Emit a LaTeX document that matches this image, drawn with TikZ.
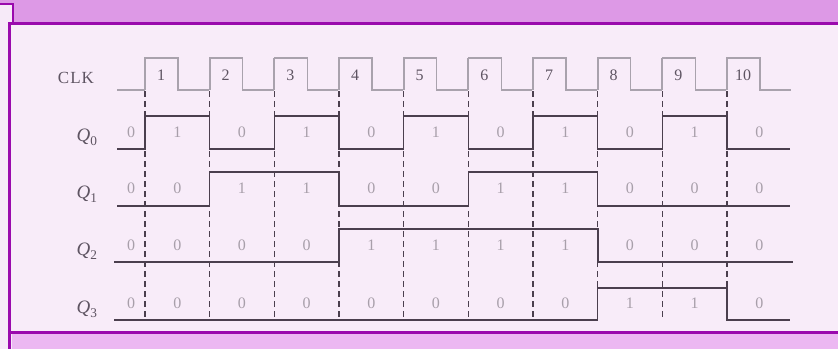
\documentclass[tikz,border=0pt]{standalone}
\usepackage{fontspec}
\setmainfont{Liberation Serif}
\usetikzlibrary{arrows}
\definecolor{bandtop}{HTML}{DD99E6}
\definecolor{bandbot}{HTML}{ECB8F2}
\definecolor{framepurple}{HTML}{9A0AAD}
\definecolor{panel}{HTML}{F8ECF9}
\definecolor{outer}{HTML}{F6EAF8}
\definecolor{clkgray}{HTML}{A9A2AD}
\definecolor{sigdark}{HTML}{4B3F4E}
\definecolor{labgray}{HTML}{5E5462}
\definecolor{valgray}{HTML}{A89FAA}

\begin{document}
\begin{tikzpicture}[x=1pt,y=-1pt,
  clk/.style={clkgray,line width=1.3pt},
  sig/.style={sigdark,line width=1.3pt},
  tick/.style={sigdark,line width=1.5pt,dash pattern=on 6pt off 4pt},
  lab/.style={labgray,font=\fontsize{19}{19}\selectfont},
  num/.style={labgray,font=\fontsize{16}{16}\selectfont},
  val/.style={valgray,font=\fontsize{16}{16}\selectfont}]
\useasboundingbox (0,0) rectangle (838,349);
% frame
\fill[outer] (0,0) rectangle (838,349);
\fill[bandtop] (0,0) rectangle (838,23.5);
\fill[outer] (0,4.5) rectangle (12.5,23.5);
\fill[panel] (9.5,23.5) rectangle (838,332.5);
\fill[bandbot] (12,334) rectangle (838,349);
\draw[framepurple,line width=2pt] (0,4) -- (13,4) -- (13,23.5);
\draw[framepurple,line width=2.8pt] (838,23.5) -- (9.5,23.5) -- (9.5,349);
\draw[framepurple,line width=2.8pt] (9.5,332.5) -- (838,332.5);

% labels
\node[lab,font=\fontsize{17}{17}\selectfont] (clk) at (76,78) {\addfontfeatures{LetterSpace=6}CLK};
\node[lab,anchor=base] (q0) at (87,141) {\textit{Q}\raisebox{-2pt}{\textsubscript{0}}};
\node[lab,anchor=base] (q1) at (87,198) {\textit{Q}\raisebox{-2pt}{\textsubscript{1}}};
\node[lab,anchor=base] (q2) at (87,255) {\textit{Q}\raisebox{-2pt}{\textsubscript{2}}};
\node[lab,anchor=base] (q3) at (87,313) {\textit{Q}\raisebox{-2pt}{\textsubscript{3}}};

% clock
\draw[clk] (117,90) -- (145,90);
\foreach \i in {1,...,10} {
  \pgfmathsetmacro\x{145+64.67*(\i-1)}
  \draw[clk] (\x,90) -- (\x,58) -- (\x+33,58) -- (\x+33,90) -- (\x+64,90);
  \draw[clkgray,line width=2.2pt] (\x,90) -- (\x,58);
  \node[num] (n\i) at (\x+16,75) {\i};
}

% outputs
\draw[sig] (117,149) -| (145,116) -| (209.7,149) -| (274.3,116) -| (339,149)
  -| (403.7,116) -| (468.3,149) -| (533,116) -| (597.7,149) -| (662.3,116)
  -| (727,149) -- (790,149);
\draw[sig] (117,206) -| (209.7,172) -| (339,206) -| (468.3,172) -| (597.7,206)
  -- (790,206);
\draw[sig,line width=2.4pt] (114,262) -| (339,229) -| (597.7,262) -- (793,262);
\draw[sig] (114,320) -| (597.7,288) -| (727,320) -- (790,320);

% clock edges
\foreach \i in {1,...,10} {
  \pgfmathsetmacro\x{145+64.67*(\i-1)}
  \draw[tick] (\x,91) -- (\x,320);
}

% states
\foreach \y/\bits in {132/{0,1,0,1,0,1,0,1,0,1,0},
                      188/{0,0,1,1,0,0,1,1,0,0,0},
                      245/{0,0,0,0,1,1,1,1,0,0,0},
                      303/{0,0,0,0,0,0,0,0,1,1,0}} {
  \foreach \b [count=\k from 0] in \bits {
    \pgfmathsetmacro\x{\k==0 ? 131 : 145+64.67*(\k-1)+32.3}
    \node[val] at (\x,\y) {\b};
  }
}
\end{tikzpicture}
\end{document}
